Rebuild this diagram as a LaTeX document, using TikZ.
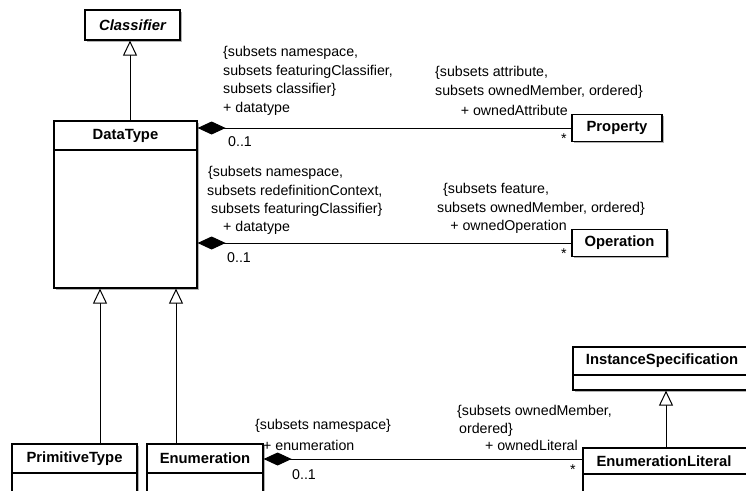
\documentclass[tikz,border=0pt]{standalone}
\usepackage{fontspec}
\setmainfont{Liberation Sans}
\usetikzlibrary{arrows.meta,shadows}
\begin{document}
\begin{tikzpicture}[x=1pt,y=-1pt,
  cbox/.style={draw, line width=1.2pt, fill=white, inner sep=0pt,
    drop shadow={shadow xshift=1.5pt, shadow yshift=-1.5pt, fill=black!30, opacity=1}},
  cname/.style={font=\fontsize{14.8}{17}\selectfont\bfseries, inner sep=0pt},
  lbl/.style={font=\fontsize{14.2}{18.5}\selectfont, inner sep=0pt},
  gen/.style={line width=1pt, -{Triangle[open, length=15pt, width=14pt, fill=white]}},
  comp/.style={line width=1pt, {Diamond[length=28pt, width=13pt]}-},
  sepline/.style={line width=1.2pt}]
\fill[white] (0,0) rectangle (746,490);
\clip (0,0) rectangle (746,490);
% classes
\node[cbox, cname, minimum width=95pt, minimum height=30pt] (cl) at (132.5,25) {\itshape Classifier};
\node[cbox, minimum width=143pt, minimum height=167pt] (dt) at (125.5,204.5) {};
\node[cname] (dtt) at (125.5,135.5) {DataType};
\draw[sepline] (dt.west |- 0,150) -- (dt.east |- 0,150);
\node[cbox, cname, minimum width=90pt, minimum height=27pt] (prop) at (617,128) {Property};
\node[cbox, cname, minimum width=95pt, minimum height=27pt] (op) at (619.5,243) {Operation};
\node[cbox, minimum width=187pt, minimum height=43pt] (is) at (666.5,368.5) {};
\node[cname] (ist) at (662,361) {InstanceSpecification};
\draw[sepline] (is.west |- 0,375) -- (is.east |- 0,375);
\node[cbox, minimum width=177pt, minimum height=72pt] (el) at (671.5,484) {};
\node[cname] (elt) at (664,461) {EnumerationLiteral};
\draw[sepline] (el.west |- 0,474) -- (el.east |- 0,474);
\node[cbox, minimum width=125pt, minimum height=76pt] (pt) at (74.5,482) {};
\node[cname] (ptt) at (74.5,458.5) {PrimitiveType};
\draw[sepline] (pt.west |- 0,473) -- (pt.east |- 0,473);
\node[cbox, minimum width=116pt, minimum height=76pt] (en) at (205,482) {};
\node[cname] (ent) at (205,458.5) {Enumeration};
\draw[sepline] (en.west |- 0,473) -- (en.east |- 0,473);
% generalizations
\draw[gen] (dt.north -| 130,0) -- (cl.south -| 130,0);
\draw[gen] (pt.north -| 100,0) -- (dt.south -| 100,0);
\draw[gen] (en.north -| 176,0) -- (dt.south -| 176,0);
\draw[gen] (el.north -| 666,0) -- (is.south -| 666,0);
% compositions
\draw[comp] (dt.east |- prop.west) -- (prop.west);
\draw[comp] (dt.east |- op.west) -- (op.west);
\draw[comp] (en.east |- 0,459) -- (el.west |- 0,459);
% labels association 1
\node[lbl, anchor=west] (a1) at (223,53) {\{subsets namespace,};
\node[lbl, anchor=west] (a2) at (223,71.5) {subsets featuringClassifier,};
\node[lbl, anchor=west] (a3) at (223,90) {subsets classifier\}};
\node[lbl, anchor=west] (a4) at (223,108.5) {+ datatype};
\node[lbl, anchor=west] (a5) at (228,142) {0..1};
\node[lbl, anchor=west] (a6) at (435,73) {\{subsets attribute,};
\node[lbl, anchor=west] (a7) at (435,91.5) {subsets ownedMember, ordered\}};
\node[lbl, anchor=east] (a8) at (568,110) {+ ownedAttribute};
\node[lbl] (a9) at (564,139) {*};
% labels association 2
\node[lbl, anchor=west] (b1) at (208,173) {\{subsets namespace,};
\node[lbl, anchor=west] (b2) at (207,191.5) {subsets redefinitionContext,};
\node[lbl, anchor=west] (b3) at (211,210) {subsets featuringClassifier\}};
\node[lbl, anchor=west] (b4) at (223,227.5) {+ datatype};
\node[lbl, anchor=west] (b5) at (227,258) {0..1};
\node[lbl, anchor=west] (b6) at (443,190) {\{subsets feature,};
\node[lbl, anchor=west] (b7) at (437,208.5) {subsets ownedMember, ordered\}};
\node[lbl, anchor=east] (b8) at (567,227) {+ ownedOperation};
\node[lbl] (b9) at (564,254) {*};
% labels association 3
\node[lbl, anchor=west] (c1) at (255,426) {\{subsets namespace\}};
\node[lbl, anchor=west] (c2) at (263,445) {+ enumeration};
\node[lbl, anchor=west] (c3) at (292,475) {0..1};
\node[lbl, anchor=west] (c4) at (457,412) {\{subsets ownedMember,};
\node[lbl, anchor=west] (c5) at (459,430) {ordered\}};
\node[lbl, anchor=east] (c6) at (578,445) {+ ownedLiteral};
\node[lbl] (c7) at (573,470) {*};
\end{tikzpicture}
\end{document}
